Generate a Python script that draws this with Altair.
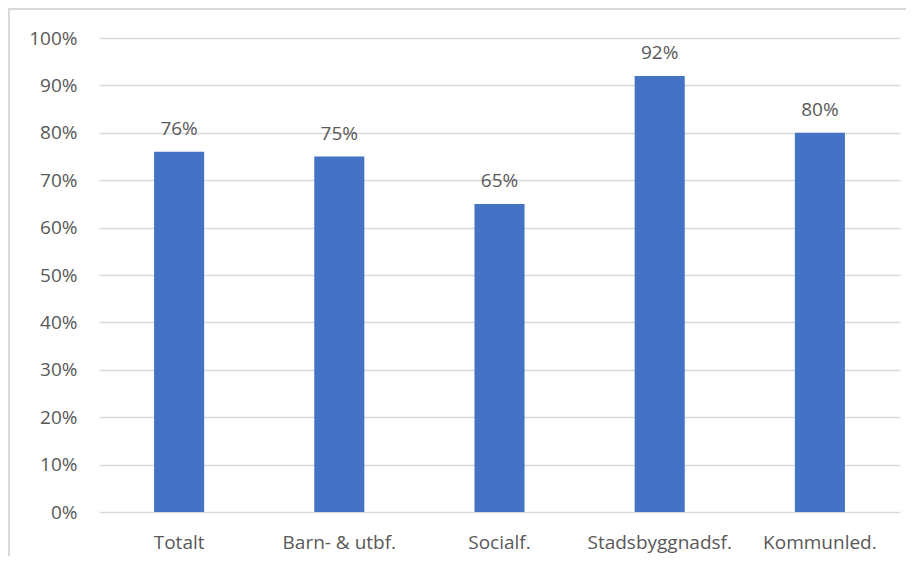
import altair as alt
import pandas as pd

categories = ["Totalt", "Barn- & utbf.", "Socialf.", "Stadsbyggnadsf.", "Kommunled."]
values = [0.76, 0.75, 0.65, 0.92, 0.80]
labels = ["76%", "75%", "65%", "92%", "80%"]

df = pd.DataFrame({"cat": categories, "val": values, "lab": labels})

FONT = "Open Sans"
GRAY = "#595959"
FS = 19

x = alt.X("cat:N", sort=categories, title=None,
          scale=alt.Scale(paddingInner=0.6875, paddingOuter=0.34375),
          axis=alt.Axis(labelAngle=0, labelFontSize=FS, labelColor=GRAY, labelFont=FONT,
                        ticks=False, domain=False, labelPadding=21, grid=False))
y = alt.Y("val:Q", title=None,
          scale=alt.Scale(domain=[0, 1]),
          axis=alt.Axis(values=[i / 10 for i in range(11)], format=".0%", labelFontSize=FS,
                        labelColor=GRAY, labelFont=FONT, ticks=False, domain=False,
                        labelPadding=22, gridColor="#d9d9d9", gridWidth=1.3))

bars = alt.Chart(df).mark_bar(color="#4472C4").encode(x=x, y=y)
text = alt.Chart(df).mark_text(baseline="alphabetic", dy=-17, fontSize=FS, color=GRAY, font=FONT).encode(
    x=alt.X("cat:N", sort=categories), y="val:Q", text="lab:N")

frame = alt.Chart(df).mark_rect(fill=None, stroke="#d9d9d9", strokeWidth=1.5).encode(
    x=alt.value(-90), x2=alt.value(840), y=alt.value(-29), y2=alt.value(560))

chart = alt.layer(frame, bars, text).properties(
    width=801, height=474,
    autosize=alt.AutoSizeParams(type="none"),
    padding={"left": 91, "top": 30, "right": 6, "bottom": 44},
).configure_view(stroke=None)

chart.save("out.html", embed_options={"renderer": "svg", "actions": False})
